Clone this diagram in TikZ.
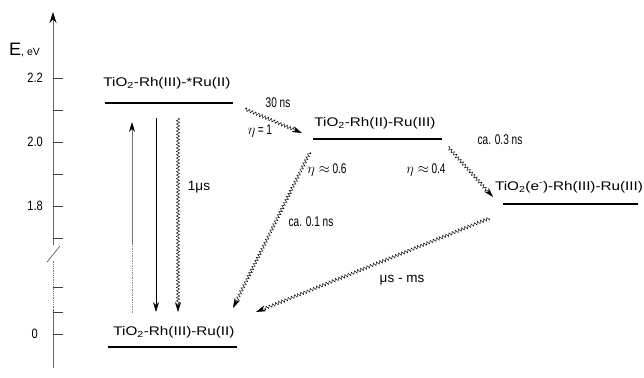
\documentclass[tikz,border=0pt]{standalone}
\usepackage{fontspec}
\setmainfont{Liberation Sans}
\newfontfamily\widefont[FakeStretch=1.22]{Liberation Sans}
\newfontfamily\narrowfont[FakeStretch=0.72]{Liberation Sans}
\newfontfamily\tickfont[FakeStretch=0.82]{Liberation Sans}
\usetikzlibrary{decorations.pathmorphing,arrows.meta}
\begin{document}
\begin{tikzpicture}[x=1pt,y=-1pt,
  level/.style={line width=1.4pt},
  lvl/.style={inner sep=0pt,font=\widefont\fontsize{12.5}{14}\selectfont},
  lab/.style={inner sep=0pt,font=\narrowfont\fontsize{14}{16}\selectfont},
  wlab/.style={inner sep=0pt,font=\fontsize{13.5}{15}\selectfont},
  tlab/.style={inner sep=0pt,font=\tickfont\fontsize{13.5}{15}\selectfont,anchor=east},
  tip/.style={-{Stealth[length=10pt,width=6pt,color=black]}},
  wavy/.style={tip,line width=0.45pt,decorate,decoration={snake,amplitude=1.6pt,segment length=3.4pt,post length=8pt}},
  tick/.style={draw=black!75,line width=0.6pt}
]
\useasboundingbox (0,0) rectangle (644,377);
% axis
\coordinate (ax0) at (53,368);
\coordinate (ax1) at (53,310);
\coordinate (ax2) at (53,260);
\coordinate (ax3) at (53,245);
\coordinate (axtop) at (53,12);
\draw[black!60,line width=0.8pt] (ax0) -- (ax1);
\draw[black!50,line width=0.8pt,densely dotted] (ax1) -- (ax2);
\draw[black!60,line width=0.8pt,-{Stealth[length=11pt,width=7pt,color=black]}] (ax3) -- (axtop);
\coordinate (br1) at (47,262);
\coordinate (br2) at (60,246);
\draw[black!70,line width=0.6pt] (br1) -- (br2);
% ticks
\foreach \yy in {78,110,142,174,206,238,287,312,334}{
  \draw[tick] (53,\yy) -- (63,\yy);
}
\node[tlab] (t22) at (43,78) {2.2};
\node[tlab] (t20) at (43,142) {2.0};
\node[tlab] (t18) at (43,206) {1.8};
\node[tlab] (t0) at (38,334) {0};
\node[inner sep=0pt,anchor=west] (E) at (9,50) {\fontsize{18}{20}\selectfont E\fontsize{10.5}{12}\selectfont, eV};
% levels
\coordinate (L1a) at (105,103); \coordinate (L1b) at (233,103);
\coordinate (L2a) at (313,139); \coordinate (L2b) at (442,139);
\coordinate (L3a) at (503,204); \coordinate (L3b) at (638,204);
\coordinate (L0a) at (108,347); \coordinate (L0b) at (237,347);
\draw[level] (L1a) -- (L1b);
\draw[level] (L2a) -- (L2b);
\draw[level] (L3a) -- (L3b);
\draw[level] (L0a) -- (L0b);
\node[lvl] (T1) at (167,83) {TiO\textsubscript{2}-Rh(III)-*Ru(II)};
\node[lvl] (T2) at (375,123) {TiO\textsubscript{2}-Rh(II)-Ru(III)};
\node[lvl] (T3) at (569,187) {TiO\textsubscript{2}(e\textsuperscript{-})-Rh(III)-Ru(III)};
\node[lvl] (T0) at (174,332) {TiO\textsubscript{2}-Rh(III)-Ru(II)};
% vertical transitions
\coordinate (u0) at (132,313); \coordinate (u1) at (132,245); \coordinate (u2) at (132,122);
\draw[black!45,line width=0.7pt,densely dotted] (u0) -- (u1);
\draw[black!55,line width=0.7pt,tip] (u1) -- (u2);
\coordinate (d1) at (156,118); \coordinate (d2) at (156,312);
\draw[line width=0.6pt,tip] (d1) -- (d2);
\coordinate (w1) at (178,118); \coordinate (w2) at (178,312);
\draw[wavy] (w1) -- (w2);
\node[wlab] (l1) at (199,187) {1μs};
% diagonal transitions
\coordinate (a1s) at (245,109); \coordinate (a1e) at (302,133);
\draw[wavy] (a1s) -- (a1e);
\coordinate (a2s) at (310,152); \coordinate (a2e) at (233,308);
\draw[wavy] (a2s) -- (a2e);
\coordinate (a3s) at (448,147); \coordinate (a3e) at (493,197);
\draw[wavy] (a3s) -- (a3e);
\coordinate (a4s) at (490,218); \coordinate (a4e) at (256,312);
\draw[wavy] (a4s) -- (a4e);
\node[lab] (l30) at (278,103) {30 ns};
\node[lab] (le1) at (260,131) {$\eta$\,= 1};
\node[lab] (le6) at (327,170) {$\eta\approx$\,0.6};
\node[lab] (l01) at (311,222) {ca. 0.1 ns};
\node[lab] (le4) at (426,170) {$\eta\approx$\,0.4};
\node[lab] (l03) at (500,140) {ca. 0.3 ns};
\node[wlab] (lms) at (402,280) {μs - ms};
\end{tikzpicture}
\end{document}
